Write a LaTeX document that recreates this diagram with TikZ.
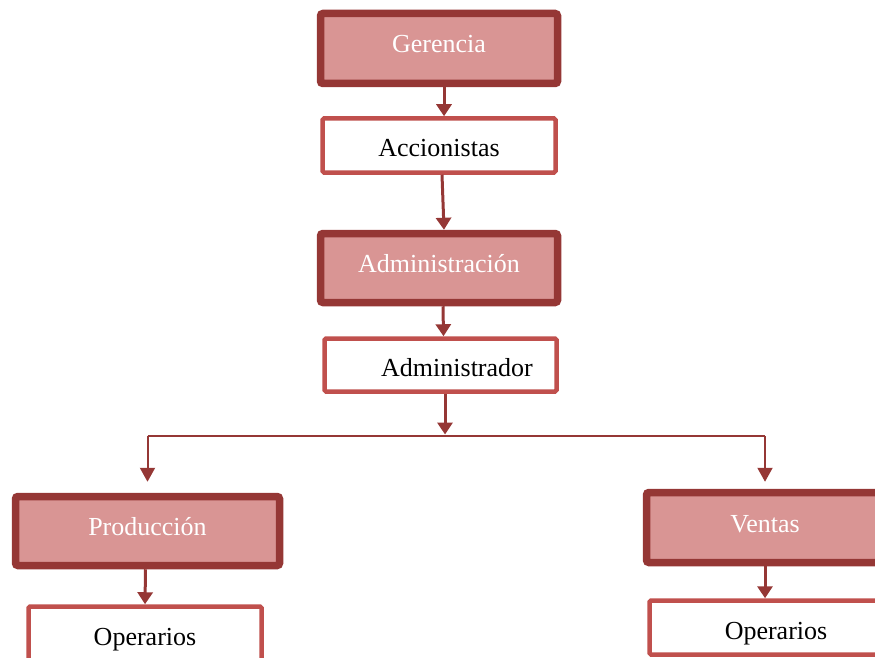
\documentclass[tikz,border=0pt]{standalone}
\usepackage{fontspec}
\setmainfont{Liberation Serif}
\usetikzlibrary{arrows.meta,shadows}
\definecolor{darkred}{HTML}{953735}
\definecolor{pinkfill}{HTML}{D99594}
\definecolor{midred}{HTML}{C0504D}
\tikzset{
  headbox/.style={draw=darkred, fill=pinkfill, line width=7.5pt, rounded corners=2.5pt,
    text=white, inner sep=0pt, font=\fontsize{26}{30}\selectfont,
    text height=12pt, text depth=3pt,
    drop shadow={shadow xshift=2.5pt, shadow yshift=-2.5pt, opacity=0.3, fill=black!70}},
  subbox/.style={draw=midred, fill=white, line width=4.5pt, rounded corners=1.5pt,
    text=black, inner sep=0pt, font=\fontsize{26}{30}\selectfont,
    text height=23pt, text depth=0pt},
  arr/.style={draw=darkred, line width=3pt, -{Triangle[width=15pt,length=12pt]}},
  arrthin/.style={draw=darkred, line width=2pt, -{Triangle[width=15pt,length=14pt]}},
  branch/.style={draw=darkred, line width=2pt},
}
\begin{document}
\begin{tikzpicture}[x=1pt,y=-1pt]
\useasboundingbox (0,0) rectangle (875,658);
\node[headbox, minimum width=237pt, minimum height=70pt] (ger) at (439,48.5) {Gerencia};
\node[subbox, minimum width=233pt, minimum height=54pt] (acc) at (439,145.5) {Accionistas};
\node[headbox, minimum width=237pt, minimum height=69pt] (adm) at (439,268) {Administración};
\node[subbox, minimum width=232pt, minimum height=53pt] (admr) at (440.5,365) {\hspace*{33pt}Administrador};
\node[headbox, minimum width=264pt, minimum height=69pt] (prod) at (147.5,531) {Producción};
\node[subbox, minimum width=233pt, minimum height=54pt] (op1) at (145,633.5) {Operarios};
\node[headbox, minimum width=237pt, minimum height=70pt] (vent) at (765,527.5) {Ventas};
\node[subbox, minimum width=231pt, minimum height=54pt] (op2) at (765,627.5) {\hspace*{22pt}Operarios};
\coordinate (j) at (445,436);
\draw[arr] ([xshift=5pt]ger.south) -- ([xshift=5pt]acc.north);
\draw[arr] ([xshift=3pt]acc.south) -- ([xshift=5pt]adm.north);
\draw[arr] ([xshift=4pt]adm.south) -- ([xshift=3pt]admr.north);
\draw[arr, shorten >=1.5pt] ([xshift=4.5pt]admr.south) -- (j);
\draw[branch] (prod.north |- j) -- (vent.north |- j);
\draw[arrthin, shorten >=11pt] (prod.north |- j) -- (prod.north);
\draw[arrthin, shorten >=7pt] (vent.north |- j) -- (vent.north);
\draw[arr] ([xshift=-2pt]prod.south) -- ([xshift=0pt]op1.north);
\draw[arr] (vent.south) -- (op2.north);
\end{tikzpicture}
\end{document}
